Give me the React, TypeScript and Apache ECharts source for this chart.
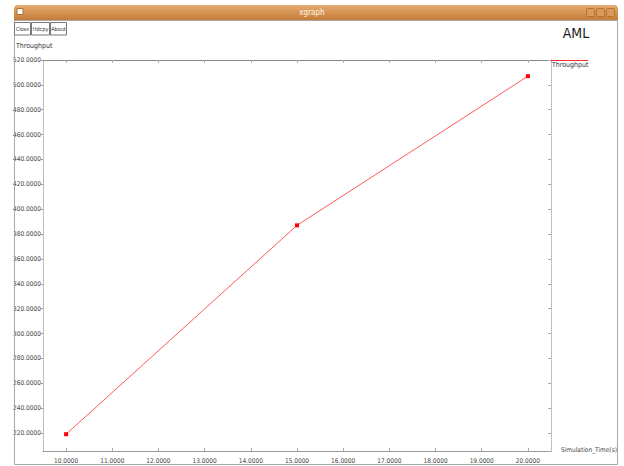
import React, { useEffect, useRef } from "react";
import * as echarts from "echarts";

const seriesName = "Throughput";
const xValues = [10, 15, 20];
const throughput = [219, 387, 507];
const xRange = [9.5, 20.5];
const yRange = [205.5, 520];
const windowTitle = "xgraph";
const buttons = ["Close", "Hdcpy", "About"];
const chartTitle = "AML";
const yAxisName = "Throughput";
const xAxisName = "Simulation_Time(s)";

const FONT = "'DejaVu Sans Condensed', 'Liberation Sans', sans-serif";

export default function App() {
  const ref = useRef<HTMLDivElement>(null);
  useEffect(() => {
    if (!ref.current) return;
    const chart = echarts.init(ref.current, null, { renderer: "svg" });
    const fmt = (v: number) => v.toFixed(4);
    const btnX = [14, 31, 50];
    const btnW = [16, 18, 16];
    const graphic: any[] = [
      {
        type: "rect",
        shape: { x: 14, y: 5, width: 604, height: 15, r: [4, 4, 0, 0] },
        style: {
          fill: new echarts.graphic.LinearGradient(0, 0, 0, 1, [
            { offset: 0, color: "#e6ac72" },
            { offset: 1, color: "#c67c36" },
          ]),
        },
        z: 10,
      },
      { type: "rect", shape: { x: 17, y: 8.5, width: 6, height: 6 }, style: { fill: "#fafafa", stroke: "#b07030" }, z: 11 },
      {
        type: "text",
        style: { text: windowTitle, x: 312, y: 12.5, fill: "#fff4e6", font: `8px ${FONT}`, align: "center", verticalAlign: "middle" },
        z: 11,
      },
      ...[586, 596, 606].map((bx) => ({
        type: "rect",
        shape: { x: bx + 0.5, y: 8.5, width: 8, height: 8, r: 1 },
        style: { fill: "#d99a5e", stroke: "#b8722f" },
        z: 11,
      })),
      {
        type: "rect",
        shape: { x: 14.5, y: 20.5, width: 603, height: 444 },
        style: { fill: "none", stroke: "#a8a8a8", lineWidth: 1 },
        z: 10,
      },
      ...buttons.flatMap((b, i) => [
        {
          type: "rect",
          shape: { x: btnX[i] + 0.5, y: 22.5, width: btnW[i], height: 12.5 },
          style: { fill: "#fff", stroke: "#777", lineWidth: 1 },
          z: 10,
        },
        {
          type: "text",
          style: { text: b, x: btnX[i] + 0.5 + btnW[i] / 2, y: 29, fill: "#333", font: `5.5px ${FONT}`, align: "center", verticalAlign: "middle" },
          z: 11,
        },
      ]),
      {
        type: "text",
        style: { text: chartTitle, x: 576, y: 33, fill: "#222", font: `14px ${FONT}`, align: "center", verticalAlign: "middle" },
        z: 10,
      },
      {
        type: "text",
        style: { text: yAxisName, x: 16, y: 45.5, fill: "#333", font: `7px ${FONT}`, align: "left", verticalAlign: "middle" },
        z: 10,
      },
      {
        type: "line",
        shape: { x1: 551, y1: 60.5, x2: 588, y2: 60.5 },
        style: { stroke: "#ff3030", lineWidth: 1 },
        z: 10,
      },
      {
        type: "text",
        style: { text: seriesName, x: 552, y: 65, fill: "#333", font: `7px ${FONT}`, align: "left", verticalAlign: "middle" },
        z: 10,
      },
      {
        type: "text",
        style: { text: xAxisName, x: 589, y: 450, fill: "#444", font: `6.5px ${FONT}`, align: "center", verticalAlign: "middle" },
        z: 10,
      },
    ];

    const axisCommon = {
      type: "value" as const,
      splitLine: { show: false },
    };

    chart.setOption({
      animation: false,
      backgroundColor: "#ffffff",
      grid: { left: 43, right: 73, top: 60, bottom: 15, containLabel: false },
      xAxis: [
        {
          ...axisCommon,
          min: xRange[0],
          max: xRange[1],
          splitNumber: 11,
          position: "bottom",
          axisLine: { show: true, lineStyle: { color: "#999", width: 1 } },
          axisTick: { show: true, inside: true, length: 3, lineStyle: { color: "#aaa" } },
          axisLabel: {
            show: true,
            formatter: fmt,
            showMinLabel: false,
            showMaxLabel: false,
            color: "#444",
            fontSize: 6.5,
            fontFamily: FONT,
            margin: 6,
          },
        },
        {
          ...axisCommon,
          min: xRange[0],
          max: xRange[1],
          splitNumber: 11,
          position: "top",
          axisLine: { show: true, lineStyle: { color: "#888", width: 1 } },
          axisTick: { show: true, inside: true, length: 3, lineStyle: { color: "#aaa" } },
          axisLabel: { show: false },
        },
      ],
      yAxis: [
        {
          ...axisCommon,
          min: yRange[0],
          max: yRange[1],
          splitNumber: 16,
          position: "left",
          axisLine: { show: true, lineStyle: { color: "#b0b0b0", width: 1, type: "dotted" } },
          axisTick: { show: true, inside: false, length: 2, lineStyle: { color: "#999" } },
          axisLabel: {
            show: true,
            formatter: fmt,
            showMinLabel: false,
            showMaxLabel: true,
            color: "#444",
            fontSize: 6.5,
            fontFamily: FONT,
            margin: 2,
          },
        },
        {
          ...axisCommon,
          min: yRange[0],
          max: yRange[1],
          splitNumber: 16,
          position: "right",
          axisLine: { show: true, lineStyle: { color: "#b0b0b0", width: 1, type: "dotted" } },
          axisTick: { show: true, inside: true, length: 3, lineStyle: { color: "#aaa" } },
          axisLabel: { show: false },
        },
      ],
      series: [
        {
          name: seriesName,
          type: "line",
          xAxisIndex: 0,
          yAxisIndex: 0,
          data: xValues.map((x, i) => [x, throughput[i]]),
          lineStyle: { color: "#ff5a5a", width: 1 },
          itemStyle: { color: "#ff0000" },
          symbol: "rect",
          symbolSize: 4,
          showSymbol: true,
        },
      ],
      graphic,
    });
    return () => chart.dispose();
  }, []);
  return <div ref={ref} style={{ position: "fixed", left: 0, top: 0, width: 624, height: 466 }} />;
}
